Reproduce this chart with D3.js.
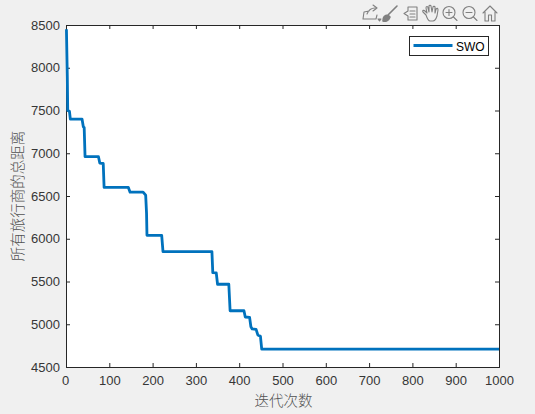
<!DOCTYPE html>
<html>
<head>
<meta charset="utf-8">
<script src="https://cdn.jsdelivr.net/npm/d3@7"></script>
<style>
  html, body { margin: 0; padding: 0; background: #f0f0f0; }
  svg { display: block; }
  text { font-family: "Liberation Sans", Arial, sans-serif; }
</style>
</head>
<body>
<svg id="chart" width="535" height="414"></svg>
<script>
const xTicks = [0, 100, 200, 300, 400, 500, 600, 700, 800, 900, 1000];
const yTicks = [4500, 5000, 5500, 6000, 6500, 7000, 7500, 8000, 8500];
const xLabel = "迭代次数";
const yLabel = "所有旅行商的总距离";
const seriesName = "SWO";

// iteration, distance
const iters = [1, 3, 4, 8, 10, 37, 40, 42, 44, 75, 78, 86, 88, 144, 148, 178, 184, 186, 187, 221, 224, 337, 339, 347, 350, 376, 379, 411, 414, 424, 427, 430, 439, 443, 449, 452, 1000];
const dist =  [8450, 7900, 7500, 7490, 7400, 7400, 7310, 7300, 6960, 6960, 6885, 6880, 6600, 6600, 6545, 6545, 6510, 6300, 6040, 6040, 5850, 5850, 5603, 5600, 5468, 5468, 5158, 5158, 5085, 5080, 4970, 4945, 4940, 4875, 4860, 4708, 4708];

const svg = d3.select("#chart");
const box = { left: 66, right: 499, top: 25, bottom: 367 };
const lineBlue = "#0072bd";
const axisGrey = "#262626";
const textGrey = "#363636";

const x = d3.scaleLinear().domain([0, 1000]).range([box.left, box.right]);
const y = d3.scaleLinear().domain([4500, 8500]).range([box.bottom, box.top]);

svg.append("rect")
   .attr("x", box.left).attr("y", box.top)
   .attr("width", box.right - box.left).attr("height", box.bottom - box.top)
   .attr("fill", "#fff");

const xAxis = d3.axisBottom(x).tickValues(xTicks).tickFormat(d3.format("d")).tickSize(-4).tickPadding(9);
const yAxis = d3.axisLeft(y).tickValues(yTicks).tickFormat(d3.format("d")).tickSize(-4).tickPadding(6);

const gx = svg.append("g").attr("transform", `translate(0,${box.bottom})`).call(xAxis);
const gy = svg.append("g").attr("transform", `translate(${box.left},0)`).call(yAxis);

// MATLAB style box, top and right edges carry ticks too
const gxTop = svg.append("g").attr("transform", `translate(0,${box.top})`)
                 .call(d3.axisTop(x).tickValues(xTicks).tickFormat("").tickSize(-4));
const gyRight = svg.append("g").attr("transform", `translate(${box.right},0)`)
                   .call(d3.axisRight(y).tickValues(yTicks).tickFormat("").tickSize(-4));

[gx, gy, gxTop, gyRight].forEach(g => {
  g.selectAll("path.domain").attr("stroke", axisGrey).attr("stroke-width", 1);
  g.selectAll("line").attr("stroke", axisGrey).attr("stroke-width", 1);
  g.selectAll("text").attr("fill", textGrey).style("font-size", "13px")
   .style("font-family", '"Liberation Sans", Arial, sans-serif');
});
// the 0 sits a little left of its tick in the reference
gx.selectAll("text").filter(d => d === 0).attr("dx", -1);

const line = d3.line()
               .x((d, i) => x(iters[i]))
               .y(d => y(d));

// after the axes, the blue runs over the left edge
svg.append("path")
   .attr("d", line(dist))
   .attr("fill", "none")
   .attr("stroke", lineBlue)
   .attr("stroke-width", 2.8)
   .attr("stroke-linejoin", "round");

svg.append("text")
   .attr("x", (box.left + box.right) / 2 + 1)
   .attr("y", 406)
   .attr("text-anchor", "middle")
   .attr("fill", "#505050")
   .style("font-family", '"Noto Sans CJK SC"')
   .style("font-size", "14.5px")
   .style("font-weight", 300)
   .text(xLabel);

svg.append("text")
   .attr("transform", `translate(23,${(box.top + box.bottom) / 2}) rotate(-90)`)
   .attr("text-anchor", "middle")
   .attr("fill", "#505050")
   .style("font-family", '"Noto Sans CJK SC"')
   .style("font-size", "14.5px")
   .style("font-weight", 300)
   .text(yLabel);

// legend
const legend = svg.append("g").attr("transform", "translate(409.5,36.5)");
legend.append("rect")
      .attr("width", 79).attr("height", 19)
      .attr("fill", "#fff").attr("stroke", axisGrey).attr("stroke-width", 1);
legend.append("line")
      .attr("x1", 4).attr("x2", 43).attr("y1", 9).attr("y2", 9)
      .attr("stroke", lineBlue).attr("stroke-width", 2.8);
legend.append("text")
      .attr("x", 46.5).attr("y", 14)
      .attr("fill", "#000")
      .style("font-size", "12px")
      .text(seriesName);

// figure toolbar icons
const icons = svg.append("g")
                 .attr("fill", "none")
                 .attr("stroke", "#808080")
                 .attr("stroke-width", 1.1)
                 .attr("stroke-linecap", "round")
                 .attr("stroke-linejoin", "round");
// export
icons.append("path").attr("d", "M363 19 L364 12 L369 11 M363 19 H376 L377 15 M367 14 C369 9 372 8 375 8 M373 5 L377 8 L373 11");
icons.append("path").attr("d", "M378 19 L381 19 L379.5 21 Z").attr("fill", "#808080");
// brush
icons.append("path").attr("d", "M397 6 L388 15 M383 21 C383 17 385 15 388 15 L390 17 C389 20 386 22 383 21 Z").attr("fill", "#808080").attr("stroke-width", 1.6);
// legend insert
icons.append("path").attr("d", "M408 7 H417 V20 H408 V16 L404 13.5 L408 11 Z M410 11 H415 M410 14 H415 M410 17 H415");
// pan hand
icons.append("path").attr("d", "M426 15 L423 12 C422 10 424 10 425 11 L427 13 L426 8 C426 6 428 6 428 8 L429 12 L429 6 C429 5 431 5 431 6 L432 12 L433 7 C433 6 435 6 435 7 L435 13 L436 9 C437 8 438 8 438 10 L437 16 C436 19 435 21 433 21 H430 C428 21 427 18 426 15 Z");
// zoom in
icons.append("circle").attr("cx", 449).attr("cy", 12.5).attr("r", 6);
icons.append("path").attr("d", "M446 12.5 H452 M449 9.5 V15.5 M453.5 17 L457 20.5");
// zoom out
icons.append("circle").attr("cx", 469).attr("cy", 12.5).attr("r", 6);
icons.append("path").attr("d", "M466 12.5 H472 M473.5 17 L477 20.5");
// home
icons.append("path").attr("d", "M483 13 L490 6 L497 13 M485 12 V21 H488.5 V15 H491.5 V21 H495 V12");
</script>
</body>
</html>
